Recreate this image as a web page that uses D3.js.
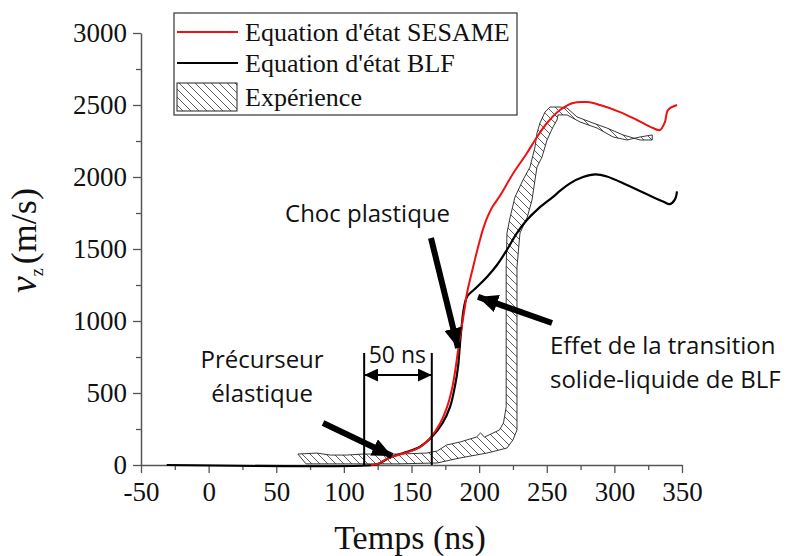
<!DOCTYPE html>
<html>
<head>
<meta charset="utf-8">
<script src="https://cdn.jsdelivr.net/npm/d3@7"></script>
<style>
  body { margin: 0; background: #fff; }
  svg { display: block; }
  .serif { font-family: "Liberation Serif", "Times New Roman", serif; }
</style>
</head>
<body>
<script>
const WIDTH = 788;
const HEIGHT = 556;

// time (ns) and velocity (m/s)
const sesameT = [120, 125, 134, 144, 156, 164, 172, 177, 181, 183.5, 186.3, 187.8, 189.5, 191, 195.6, 200.6, 203.5, 206.5, 210, 215.4, 225, 235.4, 242.8, 250.2, 259.8, 269.4, 279.8, 289.4, 304.2, 316.7, 328.6, 333.7, 337.4, 339.6, 346.3];
const sesameV = [0, 8, 52, 80, 122, 190, 290, 400, 540, 680, 870, 1000, 1100, 1192, 1377, 1563, 1655, 1730, 1795, 1870, 2022, 2167, 2278, 2375, 2465, 2514, 2520, 2500, 2451, 2396, 2340, 2326, 2382, 2465, 2500];

const blfT = [-31, 122, 126, 134, 144, 156, 165, 173, 178.5, 182, 184.4, 186, 187.5, 188.5, 191, 198.4, 205.8, 213.2, 220.5, 227.8, 235.3, 244, 254.7, 260, 267.2, 276.8, 286, 294.5, 309.3, 324.1, 336, 341, 344.8, 346.3];
const blfV = [0, 0, 10, 52, 83, 125, 194, 292, 403, 542, 681, 860, 1000, 1076, 1167, 1236, 1306, 1389, 1493, 1609, 1701, 1782, 1862, 1905, 1956, 2000, 2018, 2003, 1944, 1880, 1830, 1812, 1845, 1900];

// experiment band: upper/left edge, then lower/right edge
const expUpperT = [66, 80, 90, 102, 114, 141, 161, 169, 176, 186, 198, 201, 204, 215, 218, 220, 220, 220, 220, 220, 220.6, 222.8, 226.5, 232.4, 237.6, 241.3, 242.8, 245, 248.7, 252.4, 259.8, 265, 272.4, 284.2, 294.5, 306.4, 319, 328];
const expUpperV = [76, 83, 69, 69, 76, 76, 83, 97, 139, 160, 194, 222, 194, 243, 292, 403, 681, 868, 1146, 1375, 1611, 1715, 1861, 1979, 2069, 2208, 2306, 2375, 2451, 2486, 2486, 2479, 2417, 2375, 2340, 2292, 2257, 2257];
const expLowerT = [328, 319, 309.3, 299, 287.2, 274.6, 265, 258.3, 257.6, 254.6, 250.2, 246.5, 242.8, 241.3, 239.1, 235.4, 230.2, 228, 228, 228, 228, 228, 225, 220.6, 205.8, 185.9, 168.9, 140, 72];
const expLowerV = [2292, 2278, 2257, 2278, 2340, 2382, 2431, 2431, 2396, 2347, 2257, 2139, 2069, 1979, 1840, 1715, 1611, 1375, 1146, 868, 500, 243, 174, 118, 83, 49, 14, 8, 8];

const xMajor = [-50, 0, 50, 100, 150, 200, 250, 300, 350];
const xMinor = [-25, 25, 75, 125, 175, 225, 275, 325];
const yMajor = [0, 500, 1000, 1500, 2000, 2500, 3000];
const yMinor = [250, 750, 1250, 1750, 2250, 2750];

const legendLabels = ["Equation d'état SESAME", "Equation d'état BLF", "Expérience"];

// 50 ns marker
const gapT = [115, 165];
const gapTop = 778;
const gapArrowV = 625;

const SERIF = "'Liberation Serif', 'Times New Roman', serif";
const SANS = "'Open Sans', 'Noto Sans', sans-serif";

const svg = d3.select("body")
              .append("svg")
              .attr("width", WIDTH)
              .attr("height", HEIGHT);

const x = d3.scaleLinear().domain([-50, 350]).range([141, 682]);
const y = d3.scaleLinear().domain([0, 3000]).range([465, 33]);

const defs = svg.append("defs");

// hatch pattern
const hatch = defs.append("pattern")
                  .attr("id", "hatch")
                  .attr("patternUnits", "userSpaceOnUse")
                  .attr("width", 8)
                  .attr("height", 8);
hatch.append("path")
     .attr("d", "M-2,-2 L10,10 M-2,6 L2,10 M6,-2 L10,2")
     .attr("stroke", "#333")
     .attr("stroke-width", 0.8);

// arrow heads
const addMarker = (id, w, h) => {
  defs.append("marker")
      .attr("id", id)
      .attr("markerUnits", "userSpaceOnUse")
      .attr("viewBox", "0 0 " + w + " " + h)
      .attr("refX", w)
      .attr("refY", h / 2)
      .attr("markerWidth", w)
      .attr("markerHeight", h)
      .attr("orient", "auto-start-reverse")
      .append("path")
      .attr("d", "M0,0 L" + w + "," + (h / 2) + " L0," + h + " Z")
      .attr("fill", "#000");
};
addMarker("bigHead", 20, 18);
addMarker("smallHead", 14, 13);

//the axis
const setAxis = () => {
  const xAxis = d3.axisBottom(x).tickValues(xMajor).tickSize(8).tickSizeOuter(0).tickPadding(9).tickFormat(d => String(d));
  const xMinorAxis = d3.axisBottom(x).tickValues(xMinor).tickSize(5).tickFormat("");
  const yAxis = d3.axisLeft(y).tickValues(yMajor).tickSize(8).tickSizeOuter(0).tickPadding(6).tickFormat(d => String(d));
  const yMinorAxis = d3.axisLeft(y).tickValues(yMinor).tickSize(5).tickFormat("");

  svg.append("g").attr("transform", "translate(0," + y(0) + ")").call(xAxis)
     .attr("font-family", SERIF).attr("font-size", 27);
  svg.append("g").attr("transform", "translate(0," + y(0) + ")").call(xMinorAxis)
     .select(".domain").remove();
  svg.append("g").attr("transform", "translate(" + x(-50) + ",0)").call(yAxis)
     .attr("font-family", SERIF).attr("font-size", 27);
  svg.append("g").attr("transform", "translate(" + x(-50) + ",0)").call(yMinorAxis)
     .select(".domain").remove();

  svg.selectAll(".domain").attr("stroke", "#555").attr("stroke-width", 1.5);
  svg.selectAll(".tick line").attr("stroke", "#555").attr("stroke-width", 1.3);
  svg.selectAll(".tick text")
     .attr("class", "serif")
     .style("font-size", "27px")
     .attr("fill", "#111");

  svg.append("text")
     .attr("class", "serif")
     .attr("x", 410)
     .attr("y", 549)
     .attr("text-anchor", "middle")
     .style("font-size", "34px")
     .attr("fill", "#111")
     .text("Temps (ns)");

  const yl = svg.append("text")
                .attr("class", "serif")
                .attr("transform", "translate(36,293) rotate(-90)")
                .attr("text-anchor", "start")
                .style("font-size", "36px")
                .attr("fill", "#111");
  yl.append("tspan").style("font-style", "italic").style("font-size", "38px").text("v");
  yl.append("tspan").style("font-size", "18px").attr("dy", 7).text("z");
  yl.append("tspan").attr("dy", -7).attr("dx", 4).text("(m/s)");
};

const zipPts = (ts, vs) => ts.map((t, i) => [t, vs[i]]);

const lineGen = d3.line().x(d => x(d[0])).y(d => y(d[1]));
const smoothGen = d3.line().x(d => x(d[0])).y(d => y(d[1])).curve(d3.curveCatmullRom.alpha(0.5));

const setSeries = () => {
  const band = zipPts(expUpperT, expUpperV).concat(zipPts(expLowerT, expLowerV));
  svg.append("path")
     .attr("d", lineGen(band) + "Z")
     .attr("fill", "url(#hatch)")
     .attr("stroke", "#222")
     .attr("stroke-width", 0.9);

  svg.append("path")
     .attr("d", smoothGen(zipPts(blfT, blfV)))
     .attr("fill", "none")
     .attr("stroke", "#000")
     .attr("stroke-width", 2.2);

  svg.append("path")
     .attr("d", smoothGen(zipPts(sesameT, sesameV).map(d => d[1] > 200 && d[1] < 1000 ? [d[0] - 0.8, d[1]] : d)))
     .attr("fill", "none")
     .attr("stroke", "#f01010")
     .attr("stroke-width", 2);
};

const setLegend = () => {
  const lg = svg.append("g");
  lg.append("rect")
    .attr("x", 174).attr("y", 13)
    .attr("width", 343).attr("height", 102)
    .attr("fill", "#fff")
    .attr("stroke", "#333")
    .attr("stroke-width", 1.2);

  const rowsY = [32, 63, 97];
  const colors = ["#f01010", "#000"];
  colors.forEach((c, i) => {
    lg.append("line")
      .attr("x1", 177).attr("x2", 238)
      .attr("y1", rowsY[i]).attr("y2", rowsY[i])
      .attr("stroke", c)
      .attr("stroke-width", 2.2);
  });
  lg.append("rect")
    .attr("x", 177).attr("y", 83)
    .attr("width", 60).attr("height", 28)
    .attr("fill", "url(#hatch)")
    .attr("stroke", "#222")
    .attr("stroke-width", 1);

  lg.selectAll("text.lab")
    .data(legendLabels)
    .enter()
    .append("text")
    .attr("class", "lab serif")
    .attr("x", 245)
    .attr("y", (d, i) => rowsY[i] + 9)
    .style("font-size", "26px")
    .attr("fill", "#111")
    .text(d => d);
};

const annText = (t, v, str, anchor, size) => {
  svg.append("text")
     .attr("x", x(t))
     .attr("y", y(v))
     .attr("text-anchor", anchor)
     .style("font-family", SANS)
     .style("font-size", size + "px")
     .attr("fill", "#111")
     .text(str);
};

const arrow = (t1, v1, t2, v2, w, head) => {
  svg.append("line")
     .attr("x1", x(t1)).attr("y1", y(v1))
     .attr("x2", x(t2)).attr("y2", y(v2))
     .attr("stroke", "#000")
     .attr("stroke-width", w)
     .attr("marker-end", "url(#" + head + ")");
};

const setAnnotations = () => {
  annText(56.5, 1688, "Choc plastique", "start", 24);
  annText(39.5, 674, "Précurseur", "middle", 24);
  annText(39.5, 438, "élastique", "middle", 24);
  annText(139.5, 708, "50 ns", "middle", 23);
  annText(252.4, 771, "Effet de la transition", "start", 24);
  annText(252.4, 535, "solide-liquide de BLF", "start", 24);

  gapT.forEach(t => {
    svg.append("line")
       .attr("x1", x(t)).attr("x2", x(t))
       .attr("y1", y(0)).attr("y2", y(gapTop))
       .attr("stroke", "#000")
       .attr("stroke-width", 2);
  });
  svg.append("line")
     .attr("x1", x(gapT[0])).attr("x2", x(gapT[1]))
     .attr("y1", y(gapArrowV)).attr("y2", y(gapArrowV))
     .attr("stroke", "#000")
     .attr("stroke-width", 2)
     .attr("marker-start", "url(#smallHead)")
     .attr("marker-end", "url(#smallHead)");

  arrow(164.4, 1576, 184.4, 812, 6, "bigHead");
  arrow(253.9, 986, 199.2, 1167, 6, "bigHead");
  arrow(84.6, 292, 135.6, 62, 6, "bigHead");
};

setAxis();
setSeries();
setLegend();
setAnnotations();
</script>
</body>
</html>
